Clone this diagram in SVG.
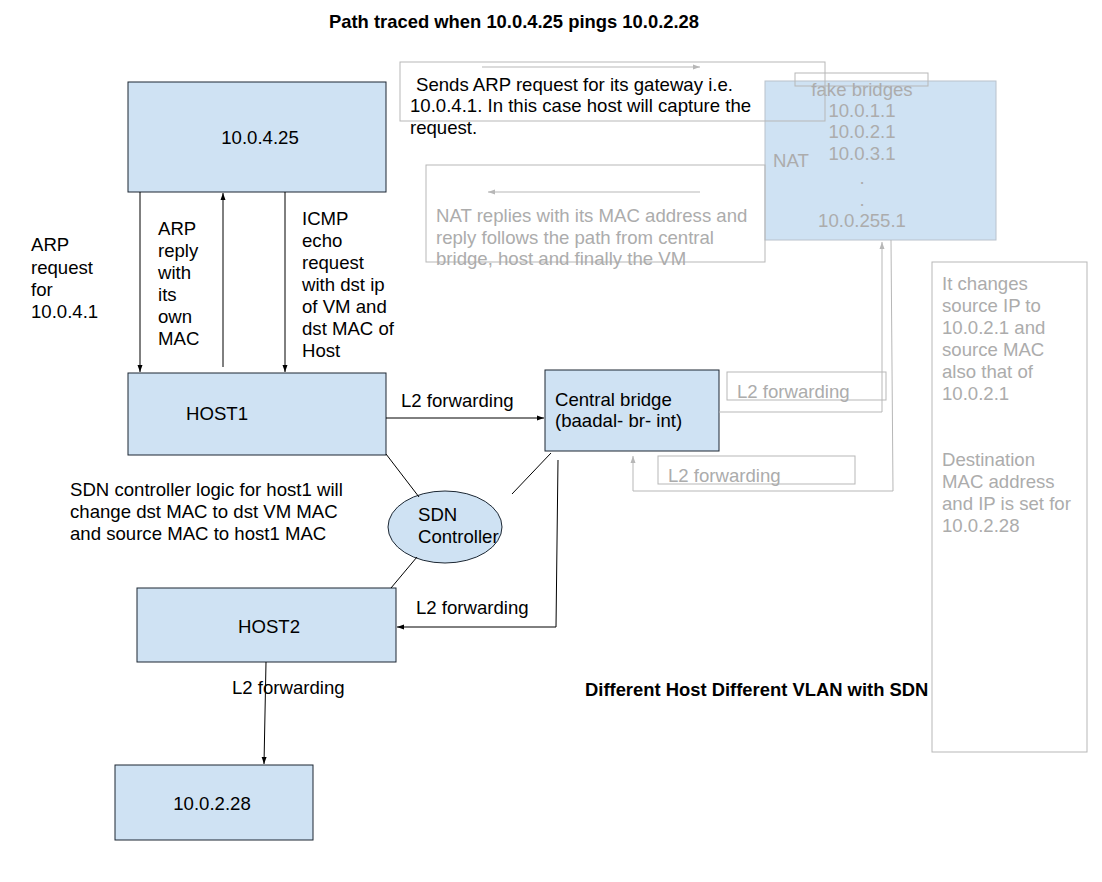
<svg xmlns="http://www.w3.org/2000/svg" width="1102" height="882" viewBox="0 0 1102 882">
<style>
text{font-family:"Liberation Sans",Arial,sans-serif;font-size:18.6px;fill:#000}
.t{font-weight:bold;font-size:18.4px}
.g{fill:#acacac}
.node{fill:#cfe2f3;stroke:#1c2733;stroke-width:1}
.gnode{fill:#cfe2f3;stroke:#b9c2cc;stroke-width:1}
.gbox{fill:none;stroke:#b7b7b7;stroke-width:1}
.c{stroke:#000;stroke-width:1;fill:none}
.gc{stroke:#b7b7b7;stroke-width:1;fill:none}
</style>
<defs>
<marker id="a" markerWidth="8" markerHeight="8" refX="7" refY="4" orient="auto" markerUnits="userSpaceOnUse"><path d="M0,1.5 L7,4 L0,6.5 z" fill="#000"/></marker>
<marker id="ga" markerWidth="8" markerHeight="8" refX="7" refY="4" orient="auto" markerUnits="userSpaceOnUse"><path d="M0,1.5 L7,4 L0,6.5 z" fill="#b7b7b7"/></marker>
</defs>
<rect width="1102" height="882" fill="#fff"/>
<text class="t" x="329" y="28">Path traced when 10.0.4.25 pings 10.0.2.28</text>

<g id="nat">
<rect class="gnode" x="765" y="81" width="231" height="159"/>
<rect class="gbox" x="795" y="73" width="133" height="13"/>
<text class="g" x="862" y="96" text-anchor="middle">fake bridges</text>
<text class="g" x="862" y="117" text-anchor="middle">10.0.1.1</text>
<text class="g" x="862" y="138" text-anchor="middle">10.0.2.1</text>
<text class="g" x="862" y="160" text-anchor="middle">10.0.3.1</text>
<text class="g" x="862" y="184" text-anchor="middle">.</text>
<text class="g" x="862" y="206" text-anchor="middle">.</text>
<text class="g" x="862" y="227" text-anchor="middle">10.0.255.1</text>
<text class="g" x="773" y="167">NAT</text>
</g>

<g id="note-arp">
<rect class="gbox" x="400" y="62" width="425" height="59"/>
<line class="gc" x1="482" y1="67" x2="700" y2="67" marker-end="url(#ga)"/>
<text x="416" y="91">Sends ARP request for its gateway i.e.</text>
<text x="410" y="112">10.0.4.1. In this case host will capture the</text>
<text x="410" y="134">request.</text>
</g>

<g id="note-nat-reply">
<rect class="gbox" x="426" y="165" width="339" height="97"/>
<line class="gc" x1="700" y1="192" x2="488" y2="192" marker-end="url(#ga)"/>
<text class="g" x="436" y="222">NAT replies with its MAC address and</text>
<text class="g" x="436" y="244">reply follows the path from central</text>
<text class="g" x="436" y="265">bridge, host and finally the VM</text>
</g>

<g id="note-change">
<rect class="gbox" x="932" y="262" width="155" height="490"/>
<text class="g" x="942" y="290">It changes</text>
<text class="g" x="942" y="312">source IP to</text>
<text class="g" x="942" y="334">10.0.2.1 and</text>
<text class="g" x="942" y="356">source MAC</text>
<text class="g" x="942" y="378">also that of</text>
<text class="g" x="942" y="400">10.0.2.1</text>
<text class="g" x="942" y="466">Destination</text>
<text class="g" x="942" y="488">MAC address</text>
<text class="g" x="942" y="510">and IP is set for</text>
<text class="g" x="942" y="532">10.0.2.28</text>
</g>

<g id="vm1">
<rect class="node" x="128" y="82" width="258" height="110"/>
<text x="260" y="144" text-anchor="middle">10.0.4.25</text>
</g>
<g id="host1">
<rect class="node" x="128" y="373" width="258" height="82"/>
<text x="186" y="420">HOST1</text>
</g>
<g id="central-bridge">
<rect class="node" x="545" y="370" width="174" height="81"/>
<text x="555" y="406">Central bridge</text>
<text x="555" y="427">(baadal- br- int)</text>
</g>
<g id="sdn">
<ellipse class="node" cx="445" cy="527" rx="57" ry="36"/>
<text x="418" y="521">SDN</text>
<text x="418" y="543">Controller</text>
</g>
<g id="host2">
<rect class="node" x="137" y="588" width="259" height="74"/>
<text x="269" y="633" text-anchor="middle">HOST2</text>
</g>
<g id="vm2">
<rect class="node" x="115" y="765" width="198" height="75"/>
<text x="212" y="810" text-anchor="middle">10.0.2.28</text>
</g>

<g id="labels">
<text x="31" y="251">ARP</text>
<text x="31" y="274">request</text>
<text x="31" y="296">for</text>
<text x="31" y="318">10.0.4.1</text>
<text x="158" y="235">ARP</text>
<text x="158" y="257">reply</text>
<text x="158" y="279">with</text>
<text x="158" y="301">its</text>
<text x="158" y="323">own</text>
<text x="158" y="345">MAC</text>
<text x="302" y="225">ICMP</text>
<text x="302" y="247">echo</text>
<text x="302" y="269">request</text>
<text x="302" y="291">with dst ip</text>
<text x="302" y="313">of VM and</text>
<text x="302" y="335">dst MAC of</text>
<text x="302" y="357">Host</text>
<text x="401" y="407">L2 forwarding</text>
<text x="70" y="496">SDN controller logic for host1 will</text>
<text x="70" y="518">change dst MAC to dst VM MAC</text>
<text x="70" y="540">and source MAC to host1 MAC</text>
<text x="416" y="614">L2 forwarding</text>
<text x="232" y="694">L2 forwarding</text>
<text class="t" x="585" y="696">Different Host Different VLAN with SDN</text>
<rect class="gbox" x="727" y="372" width="159" height="28"/>
<text class="g" x="737" y="398">L2 forwarding</text>
<rect class="gbox" x="658" y="456" width="197" height="28"/>
<text class="g" x="668" y="482">L2 forwarding</text>
</g>

<g id="connectors">
<line class="c" x1="140" y1="192" x2="140" y2="372" marker-end="url(#a)"/>
<line class="c" x1="223" y1="367" x2="223" y2="193" marker-end="url(#a)"/>
<line class="c" x1="285" y1="192" x2="285" y2="372" marker-end="url(#a)"/>
<line class="c" x1="386" y1="418" x2="544" y2="418" marker-end="url(#a)"/>
<line class="c" x1="386" y1="454" x2="419" y2="497"/>
<line class="c" x1="551" y1="453" x2="512" y2="494"/>
<line class="c" x1="417" y1="557" x2="391" y2="588"/>
<polyline class="c" points="558,460 556,627 397,627" marker-end="url(#a)"/>
<line class="c" x1="266" y1="662" x2="264" y2="764" marker-end="url(#a)"/>
<polyline class="gc" points="719,412 882,412 882,242" marker-end="url(#ga)"/>
<polyline class="gc" points="891,240 893,491 633,491 633,456" marker-end="url(#ga)"/>
</g>
</svg>
